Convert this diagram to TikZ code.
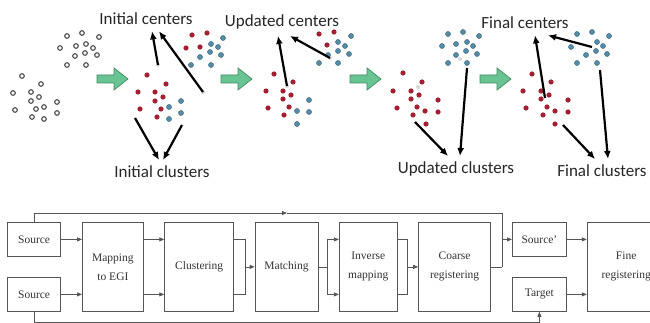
\documentclass[tikz,border=0pt]{standalone}
\usepackage{fontspec}
\setmainfont{Liberation Serif}
\newfontfamily\labelfont{Carlito}
\usetikzlibrary{arrows.meta,positioning,chains}
\definecolor{dotred}{RGB}{162,32,50}
\definecolor{dotblue}{RGB}{84,140,168}
\definecolor{stepfill}{RGB}{104,196,146}
\definecolor{stepline}{RGB}{66,138,98}
\definecolor{linegrey}{RGB}{85,85,85}
\begin{document}
\begin{tikzpicture}[
x=1pt,y=-1pt,
greydot/.style={draw=black!70,line width=1.1pt,fill=white},
reddot/.style={fill=dotred},
bluedot/.style={fill=dotblue,draw=dotblue!75!black,line width=0.5pt},
ctrdot/.style={fill=black!15},
lbl/.style={font=\labelfont\fontsize{17}{17}\selectfont,text=black!85,anchor=base,inner sep=6pt},
blackarr/.style={-{Latex[length=8pt,width=7pt]},line width=2.2pt},
stepgreen/.style={fill=stepfill,draw=stepline,line width=0.7pt},
blk/.style={
  draw=linegrey,
  line width=0.8pt,
  minimum height=89pt,
  align=center,
  text=black!80,
  font=\fontsize{11.5}{19}\selectfont
  },
smallblk/.style={blk,minimum height=34pt,minimum width=53pt},
flow/.style={draw=linegrey,line width=0.8pt,-{Triangle[length=5pt,width=4pt]}},
node distance=20.5pt,
start chain=going right
]
\useasboundingbox (0,0) rectangle (650,323);
\clip (0,0) rectangle (650,323);
% dots
\foreach \p in {(67,36),(82,33),(99,37),(60,48),(76,46),(86,44),(93,48),(75,56),(85,53),(97,55),(67,65),(86,65),
  (22,76),(41,84),(13,93),(31,92),(31,101),(39,97),(57,102),(15,110),(36,109),(44,107),(57,113),(32,117),(44,119)}
  \draw[greydot] \p circle (2.3pt);
\foreach \p in {(147,75),(166,84),(138,92),(155,92),(163,97),(155,101),(140,109),(161,109),(157,117),
  (192,35),(207,33),(186,48),(200,47),
  (274,74),(293,82),(266,91),(283,91),(291,95),(283,99),(268,108),(289,107),(284,115),
  (319,34),(334,32),(327,45),
  (403,73),(422,82),(393,91),(411,91),(419,95),(411,99),(438,100),(397,108),(417,107),(425,111),(438,112),(413,115),(426,124),
  (532,74),(551,82),(523,91),(541,91),(549,95),(541,99),(568,100),(526,108),(547,107),(555,111),(568,112),(543,115),(555,124)}
  \fill[reddot] \p circle (2.6pt);
\foreach \p in {(169,107),(181,101),(181,113),(169,119),
  (211,44),(218,47),(223,38),(210,52),(221,55),(200,57),(191,65),(211,65),
  (309,100),(297,111),(309,112),(297,124),
  (338,42),(351,36),(345,46),(338,51),(349,54),(328,55),(319,63),(338,63),
  (448,34),(463,32),(479,36),(442,46),(456,44),(467,42),(473,46),(456,55),(466,51),(477,54),(448,63),(467,63),
  (577,34),(592,32),(609,36),(571,47),(586,55),(597,42),(603,46),(596,51),(607,54),(577,63),(597,63)}
  \draw[bluedot] \p circle (2.5pt);
\foreach \x in {97,221,350,480}
  \filldraw[stepgreen] (\x,75) -- ++(17,0) -- ++(0,-7) -- ++(14,11) -- ++(-14,11) -- ++(0,-7) -- ++(-17,0) -- cycle;
% centers
\coordinate (c2a) at (158,65);
\coordinate (c2b) at (203,92);
\coordinate (c3a) at (287,86);
\coordinate (c3b) at (330,58);
\coordinate (c4a) at (418,87);
\coordinate (c4b) at (460,59);
\coordinate (c5a) at (545,98);
\coordinate (c5b) at (592,47);
\foreach \c in {c2a,c2b,c3a,c3b,c4a,c4b}
  \fill[ctrdot] (\c) circle (2pt);
\coordinate (k2a) at (135,118);
\coordinate (k2b) at (182,125);
\coordinate (k4a) at (415,122);
\coordinate (k4b) at (467,68);
\coordinate (k5a) at (563,125);
\coordinate (k5b) at (600,70);
\node[lbl] (ic) at (146,25) {Initial centers};
\node[lbl] (uc) at (282,27) {Updated centers};
\node[lbl] (fc) at (525,29) {Final centers};
\node[lbl] (icl) at (162,178) {Initial clusters};
\node[lbl] (ucl) at (456,174) {Updated clusters};
\node[lbl] (fcl) at (602,177) {Final clusters};
\draw[blackarr] (c2a) -- ([xshift=6pt]ic.south);
\draw[blackarr] (c2b) -- ([xshift=13pt]ic.south);
\draw[blackarr] (c3a) -- ([xshift=-4pt]uc.south);
\draw[blackarr] (c3b) -- ([xshift=8pt]uc.south);
\draw[blackarr] (c5a) -- ([xshift=10pt]fc.south);
\draw[blackarr] (c5b) -- ([xshift=23pt]fc.south);
\draw[blackarr] (k2a) -- ([xshift=-3pt]icl.north);
\draw[blackarr] (k2b) -- ([xshift=1pt]icl.north);
\draw[blackarr] (k4a) -- ([xshift=-8pt]ucl.north);
\draw[blackarr] (k4b) -- ([xshift=4pt]ucl.north);
\draw[blackarr] (k5a) -- ([xshift=-7pt]fcl.north);
\draw[blackarr] (k5b) -- ([xshift=6pt]fcl.north);
% pipeline
\node[blk,on chain,anchor=north west,minimum width=61pt] (map) at (82,222) {Mapping\\to EGI};
\node[blk,on chain,minimum width=69pt] (clu) {Clustering};
\node[blk,on chain,minimum width=63pt] (mat) {Matching};
\node[blk,on chain,minimum width=58pt] (inv) {Inverse\\mapping};
\node[blk,on chain,minimum width=72pt] (coa) {Coarse\\registering};
\node[smallblk,left=21pt of map.north west,anchor=north east] (src1) {Source};
\node[smallblk,left=21pt of map.south west,anchor=south east] (src2) {Source};
\node[smallblk,right=21pt of coa.north east,anchor=north west,minimum width=54pt] (srcp) {Source'};
\node[smallblk,right=21pt of coa.south east,anchor=south west,minimum width=54pt] (tgt) {Target};
\node[blk,right=20pt of srcp.north east,anchor=north west,minimum width=78pt] (fin) {Fine\\registering};
\draw[flow] (src1) -- (map.west |- src1);
\draw[flow] (src2) -- (map.west |- src2);
\draw[flow] (map.east |- src1) -- (clu.west |- src1);
\draw[flow] (map.east |- src2) -- (clu.west |- src2);
\draw[flow,-] (clu.east |- src1) -| ([xshift=11pt]clu.east) |- (clu.east |- src2);
\draw[flow] ([xshift=11pt]clu.east) -- (mat);
\draw[flow,-] (mat) -- ([xshift=9pt]mat.east) coordinate (fork);
\draw[flow] (fork) |- (inv.west |- src1);
\draw[flow] (fork) |- (inv.west |- src2);
\draw[flow,-] (inv.east |- src1) -| ([xshift=10pt]inv.east) |- (inv.east |- src2);
\draw[flow] ([xshift=10pt]inv.east) -- (coa);
\draw[flow,-] (coa) -- ([xshift=11pt]coa.east) coordinate (join);
\coordinate (topline) at (0,213);
\coordinate (midtop) at (287,213);
\draw[flow] (src1.north) |- (midtop);
\draw[flow,-] (midtop) -- (topline -| join) -- (join);
\draw[flow] (join |- srcp) -- (srcp);
\draw[flow] (srcp) -- (fin.west |- srcp);
\draw[flow] (tgt) -- (fin.west |- tgt);
\draw[flow] (src2.south) -- ++(0,11) -| (tgt.south);
\end{tikzpicture}
\end{document}
